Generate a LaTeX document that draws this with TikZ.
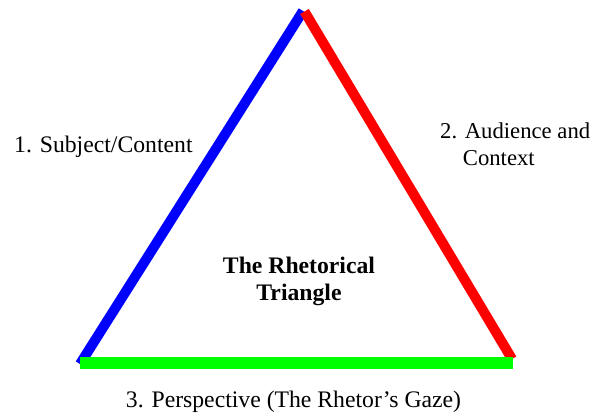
\documentclass[tikz,border=0pt]{standalone}
\usepackage{fontspec}
\setmainfont{Liberation Serif}
\begin{document}
\begin{tikzpicture}[x=1pt,y=-1pt,
  side/.style={line width=10pt,line cap=butt},
  base/.style={line width=11.5pt,line cap=butt},
  lbl/.style={inner sep=0pt,font=\fontsize{23.7}{27}\selectfont},
  title/.style={inner sep=0pt,align=center,font=\fontsize{23.7}{27}\selectfont\bfseries}]
\useasboundingbox (0,0) rectangle (596,415);
% corner coordinates of the three sides
\coordinate (bl) at (80,364);
\coordinate (ap) at (303,11);
\coordinate (ar) at (304.5,11.5);
\coordinate (br) at (512,359);
\coordinate (gl) at (80,363);
\coordinate (gr) at (512.5,363);
\draw[side,blue] (bl) -- (ap);
\draw[side,red] (ar) -- (br);
\draw[base,green] (gl) -- (gr);
% labels
\node[lbl,anchor=base west] (subj) at (14,152) {1. Subject/Content};
\node[lbl,anchor=base west,align=left,font=\fontsize{22.7}{27}\selectfont] (aud) at (440,165) {2. Audience and\\\phantom{2.}\ Context};
\node[title,anchor=base] (rt) at (299,300) {The Rhetorical\\Triangle};
\node[lbl,anchor=base] (persp) at (293.5,407) {3. Perspective (The Rhetor’s Gaze)};
\end{tikzpicture}
\end{document}
